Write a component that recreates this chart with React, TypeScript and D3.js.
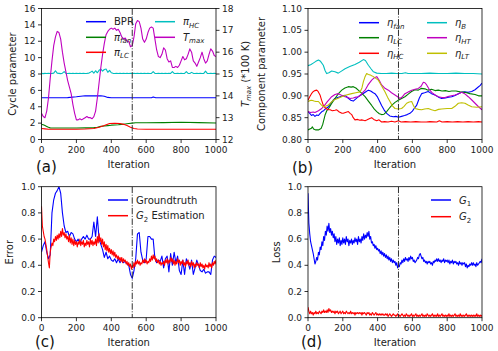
import React from "react";
import * as d3 from "d3";

type Pt = [number, number];

// ---------- shared ----------
const X_TICKS = [0, 200, 400, 600, 800, 1000];
const DIVIDER = 520;

// ---------- panel (a) ----------
const A_Y_TICKS = [0, 2, 4, 6, 8, 10, 12, 14, 16];
const A_Y2_TICKS = [12, 13, 14, 15, 16, 17, 18];
const BPR: Pt[] = [[0,5.1],[100,5.1],[150,5.12],[200,5.22],[250,5.35],[300,5.33],[340,5.35],[360,5.28],[380,5.14],[400,5.1],[630,5.1],[640,5.2],[655,5.1],[1000,5.1]];
const PI_FAN: Pt[] = [[0,1.85],[10,1.8],[20,1.7],[30,1.6],[40,1.5],[50,1.42],[100,1.4],[200,1.4],[250,1.42],[300,1.45],[320,1.5],[340,1.6],[360,1.65],[380,1.7],[400,1.75],[420,1.78],[440,1.8],[460,1.85],[480,1.9],[500,1.95],[520,2.0],[540,2.05],[600,2.05],[700,2.06],[800,2.1],[900,2.06],[1000,2.02]];
const PI_LC: Pt[] = [[0,1.35],[20,1.3],[40,1.25],[100,1.25],[200,1.25],[250,1.28],[300,1.35],[330,1.5],[360,1.7],[390,1.95],[420,1.98],[450,1.95],[470,1.85],[490,1.7],[510,1.5],[530,1.35],[550,1.28],[600,1.25],[1000,1.25]];
const PI_HC_STEP = 10;
const PI_HC = [
  8.08,8.05,8.08,8.06,8.08,8.07,8.08,8.10,8.40,8.10,
  8.08,8.05,8.10,8.30,8.08,8.06,8.08,8.07,8.08,8.06,
  8.08,8.07,8.08,8.06,8.08,8.07,8.08,8.10,8.20,8.35,
  8.10,8.40,8.15,8.45,8.60,8.35,8.55,8.60,8.20,8.45,
  8.15,8.08,8.06,8.08,8.07,8.08,8.06,8.08,8.07,8.08,
  8.06,8.08,8.07,8.08,8.06,8.08,8.07,8.08,8.06,8.08,
  8.07,8.08,8.06,8.08,8.30,8.08,8.07,8.08,8.06,8.08,
  8.07,8.08,8.06,8.08,8.07,8.30,8.08,8.06,8.08,8.07,
  8.08,8.06,8.08,8.30,8.08,8.07,8.20,8.08,8.06,8.08,
  8.07,8.08,8.06,8.08,8.35,8.08,8.07,8.08,8.06,8.08,
  8.07];
const T_MAX_STEP = 10;
const T_MAX = [
  13.2,13.05,13.0,13.3,13.9,14.8,15.6,16.3,16.7,16.95,
  16.9,16.6,16.0,15.5,15.1,14.7,14.4,14.1,13.6,13.2,
  12.9,12.9,12.95,12.9,12.95,13.0,13.05,13.0,13.0,12.95,
  13.05,13.3,13.9,14.6,15.3,15.9,16.4,16.8,16.95,17.05,
  17.1,17.05,17.1,17.0,17.05,16.9,16.7,16.6,16.65,16.5,
  16.5,16.25,16.3,16.7,17.3,17.45,17.4,17.1,16.6,16.45,
  16.6,16.9,17.1,17.15,17.1,16.6,16.1,15.8,15.75,15.9,
  16.2,16.1,15.7,15.55,15.6,15.3,15.3,15.35,15.3,15.4,
  15.6,15.8,15.65,15.7,15.9,16.15,16.0,15.6,15.5,15.35,
  15.55,15.75,16.0,15.7,15.5,15.6,15.9,16.15,16.05,15.85,
  15.8];

// ---------- panel (b) ----------
const B_Y_TICKS = [0.8, 0.85, 0.9, 0.95, 1.0, 1.05, 1.1];
const ETA_FAN: Pt[] = [[0,.864],[10,.86],[20,.855],[30,.857],[40,.853],[50,.856],[60,.855],[70,.86],[80,.864],[90,.866],[100,.87],[117,.875],[130,.882],[145,.89],[155,.894],[170,.896],[185,.898],[200,.9],[213,.901],[230,.895],[245,.89],[260,.888],[275,.893],[289,.898],[305,.902],[320,.906],[335,.91],[347,.913],[360,.911],[375,.907],[385,.905],[400,.897],[412,.887],[423,.878],[437,.868],[452,.86],[470,.854],[490,.852],[505,.853],[520,.851],[538,.853],[555,.855],[570,.857],[586,.86],[600,.865],[612,.872],[624,.878],[640,.895],[653,.905],[670,.907],[691,.91],[710,.905],[730,.902],[750,.897],[768,.894],[790,.895],[808,.897],[826,.898],[845,.901],[865,.905],[883,.908],[900,.909],[920,.908],[941,.91],[960,.914],[975,.919],[990,.924],[1000,.929]];
const ETA_LC: Pt[] = [[0,.822],[10,.824],[20,.826],[25,.829],[32,.824],[45,.822],[60,.822],[75,.825],[85,.835],[98,.856],[108,.866],[117,.87],[135,.882],[155,.894],[175,.905],[194,.913],[212,.918],[232,.921],[248,.92],[260,.921],[275,.918],[289,.913],[308,.906],[328,.898],[347,.888],[366,.878],[380,.87],[395,.864],[410,.859],[423,.857],[437,.858],[452,.864],[466,.871],[481,.878],[500,.885],[519,.89],[538,.894],[557,.898],[576,.904],[595,.91],[615,.914],[634,.913],[650,.917],[672,.916],[690,.913],[710,.915],[730,.912],[749,.913],[770,.911],[790,.912],[810,.91],[826,.911],[850,.911],[875,.909],[902,.908],[930,.905],[960,.903],[980,.9],[1000,.9]];
const ETA_HC: Pt[] = [[0,.89],[10,.898],[20,.905],[31,.91],[40,.912],[50,.913],[58,.91],[69,.902],[78,.89],[88,.878],[100,.872],[115,.868],[127,.868],[140,.866],[155,.867],[165,.868],[180,.863],[195,.86],[203,.86],[215,.862],[232,.864],[242,.86],[251,.857],[260,.85],[270,.845],[285,.846],[298,.844],[308,.845],[318,.844],[328,.843],[340,.845],[355,.848],[366,.85],[378,.846],[395,.843],[408,.845],[423,.84],[440,.841],[460,.84],[480,.842],[500,.84],[520,.843],[535,.84],[560,.841],[590,.84],[620,.841],[650,.84],[680,.84],[700,.841],[740,.84],[755,.843],[770,.84],[800,.841],[830,.84],[860,.841],[890,.84],[920,.841],[950,.84],[980,.841],[1000,.84]];
const ETA_HT: Pt[] = [[0,.864],[15,.862],[30,.863],[40,.862],[60,.866],[79,.871],[95,.878],[110,.886],[125,.893],[136,.898],[155,.903],[174,.905],[190,.902],[213,.898],[230,.896],[241,.894],[260,.895],[275,.897],[289,.898],[305,.903],[318,.909],[328,.913],[345,.925],[366,.936],[380,.941],[395,.944],[410,.935],[423,.925],[440,.918],[462,.913],[480,.907],[500,.902],[515,.898],[529,.894],[543,.898],[557,.905],[576,.909],[596,.913],[615,.915],[634,.917],[650,.922],[663,.931],[672,.93],[682,.925],[695,.916],[711,.908],[730,.902],[749,.898],[770,.896],[787,.896],[810,.899],[845,.902],[865,.905],[883,.908],[900,.905],[921,.898],[940,.891],[960,.883],[980,.875],[1000,.868]];
const ETA_LT: Pt[] = [[0,.887],[10,.889],[21,.89],[35,.888],[45,.887],[60,.887],[75,.88],[88,.875],[100,.876],[117,.879],[130,.884],[146,.89],[170,.894],[194,.898],[220,.902],[251,.905],[275,.907],[299,.909],[310,.918],[318,.932],[327,.943],[337,.951],[347,.949],[357,.948],[366,.946],[376,.944],[390,.94],[404,.936],[420,.925],[443,.909],[457,.897],[471,.887],[485,.877],[500,.871],[520,.87],[538,.871],[552,.876],[567,.883],[582,.886],[596,.887],[606,.878],[615,.871],[635,.869],[653,.868],[670,.87],[691,.871],[710,.868],[730,.866],[750,.869],[768,.87],[800,.871],[826,.871],[845,.876],[864,.883],[883,.884],[902,.883],[920,.879],[941,.875],[970,.874],[1000,.875]];
const ETA_B: Pt[] = [[0,.969],[15,.971],[30,.975],[45,.979],[60,.982],[72,.979],[88,.97],[98,.958],[107,.951],[120,.953],[136,.957],[155,.955],[174,.952],[190,.956],[213,.962],[240,.967],[270,.972],[295,.977],[318,.983],[330,.981],[347,.97],[362,.962],[376,.955],[395,.952],[420,.951],[450,.951],[480,.952],[510,.951],[540,.951],[560,.953],[575,.951],[600,.951],[650,.951],[700,.952],[750,.951],[800,.951],[850,.952],[900,.951],[950,.951],[1000,.95]];

// ---------- panel (c) ----------
const CD_Y_TICKS = [0, 0.2, 0.4, 0.6, 0.8, 1.0];
const GROUNDTRUTH_STEP = 10;
const GROUNDTRUTH = [
  0.50,0.55,0.58,0.50,0.45,0.48,0.80,0.90,0.95,0.97,
  1.00,0.95,0.80,0.70,0.65,0.66,0.62,0.65,0.64,0.60,
  0.58,0.60,0.57,0.60,0.62,0.60,0.63,0.60,0.60,0.62,
  0.73,0.62,0.77,0.60,0.56,0.52,0.46,0.50,0.45,0.47,
  0.44,0.43,0.45,0.42,0.45,0.42,0.44,0.42,0.43,0.41,
  0.40,0.33,0.30,0.36,0.45,0.64,0.65,0.50,0.44,0.42,
  0.45,0.62,0.62,0.60,0.60,0.45,0.42,0.44,0.43,0.47,
  0.38,0.45,0.47,0.35,0.49,0.40,0.50,0.42,0.47,0.36,
  0.33,0.44,0.33,0.45,0.42,0.37,0.44,0.33,0.38,0.44,
  0.40,0.36,0.35,0.37,0.34,0.35,0.35,0.33,0.44,0.47,
  0.46];
const G2_EST_STEP = 5;
const G2_EST = [
  0.85,0.70,0.66,0.62,0.60,0.56,0.52,0.47,0.42,0.38,
  0.50,0.54,0.57,0.55,0.60,0.58,0.62,0.59,0.63,0.60,
  0.64,0.61,0.66,0.62,0.68,0.63,0.65,0.61,0.64,0.60,
  0.62,0.58,0.63,0.57,0.61,0.56,0.60,0.55,0.59,0.56,
  0.58,0.54,0.58,0.56,0.60,0.55,0.58,0.56,0.59,0.54,
  0.57,0.55,0.59,0.56,0.58,0.54,0.60,0.56,0.59,0.55,
  0.58,0.56,0.60,0.55,0.62,0.57,0.64,0.58,0.61,0.56,
  0.60,0.54,0.58,0.52,0.56,0.51,0.55,0.50,0.53,0.49,
  0.52,0.48,0.51,0.47,0.50,0.46,0.48,0.45,0.47,0.44,
  0.46,0.43,0.46,0.42,0.45,0.43,0.44,0.41,0.43,0.40,
  0.42,0.39,0.41,0.37,0.40,0.38,0.42,0.39,0.43,0.41,
  0.44,0.41,0.43,0.40,0.42,0.41,0.44,0.42,0.45,0.42,
  0.44,0.41,0.43,0.42,0.45,0.43,0.47,0.44,0.48,0.45,
  0.47,0.43,0.45,0.42,0.44,0.41,0.43,0.40,0.42,0.41,
  0.43,0.40,0.44,0.42,0.45,0.41,0.44,0.42,0.46,0.43,
  0.45,0.41,0.44,0.40,0.43,0.41,0.45,0.42,0.44,0.40,
  0.43,0.41,0.44,0.40,0.42,0.39,0.43,0.41,0.44,0.40,
  0.42,0.39,0.43,0.40,0.42,0.38,0.41,0.39,0.42,0.40,
  0.41,0.38,0.42,0.39,0.41,0.38,0.40,0.37,0.41,0.39,
  0.40,0.38,0.42,0.39,0.41,0.38,0.42,0.40,0.43,0.41,
  0.44];

// ---------- panel (d) ----------
const G1_STEP = 5;
const G1 = [
  0.95,0.72,0.64,0.58,0.55,0.52,0.49,0.45,0.41,0.43,
  0.46,0.44,0.50,0.48,0.54,0.52,0.58,0.55,0.62,0.59,
  0.66,0.63,0.70,0.66,0.72,0.65,0.68,0.63,0.66,0.61,
  0.64,0.58,0.62,0.56,0.60,0.57,0.61,0.55,0.59,0.56,
  0.61,0.57,0.60,0.56,0.62,0.58,0.60,0.55,0.59,0.57,
  0.60,0.56,0.59,0.57,0.61,0.58,0.60,0.56,0.62,0.58,
  0.60,0.57,0.62,0.59,0.64,0.60,0.63,0.61,0.65,0.62,
  0.66,0.60,0.62,0.57,0.58,0.55,0.56,0.53,0.55,0.52,
  0.53,0.51,0.52,0.49,0.51,0.48,0.50,0.47,0.49,0.46,
  0.48,0.45,0.47,0.44,0.46,0.43,0.45,0.42,0.44,0.42,
  0.43,0.40,0.42,0.38,0.40,0.39,0.42,0.41,0.44,0.42,
  0.45,0.43,0.46,0.44,0.45,0.43,0.46,0.44,0.47,0.45,
  0.46,0.43,0.44,0.42,0.43,0.44,0.46,0.45,0.48,0.49,
  0.47,0.45,0.46,0.43,0.44,0.42,0.43,0.41,0.43,0.42,
  0.43,0.41,0.42,0.40,0.43,0.42,0.44,0.43,0.45,0.43,
  0.45,0.43,0.44,0.42,0.44,0.43,0.45,0.42,0.44,0.43,
  0.44,0.42,0.44,0.41,0.43,0.42,0.44,0.41,0.43,0.42,
  0.43,0.41,0.42,0.40,0.43,0.41,0.42,0.40,0.42,0.41,
  0.42,0.39,0.41,0.38,0.40,0.39,0.41,0.40,0.42,0.40,
  0.42,0.40,0.41,0.39,0.42,0.40,0.41,0.42,0.43,0.42,
  0.45];
const G2_STEP = 5;
const G2 = [
  0.08,0.05,0.03,0.05,0.03,0.04,0.02,0.04,0.03,0.05,
  0.03,0.04,0.03,0.05,0.04,0.03,0.05,0.04,0.06,0.04,
  0.05,0.04,0.06,0.04,0.07,0.05,0.06,0.04,0.05,0.04,
  0.05,0.03,0.05,0.04,0.05,0.03,0.04,0.05,0.03,0.04,
  0.05,0.03,0.04,0.03,0.05,0.04,0.03,0.04,0.03,0.05,
  0.03,0.04,0.03,0.04,0.02,0.04,0.03,0.04,0.03,0.04,
  0.03,0.04,0.02,0.04,0.03,0.04,0.03,0.02,0.04,0.03,
  0.04,0.02,0.03,0.02,0.04,0.03,0.02,0.03,0.04,0.02,
  0.03,0.02,0.03,0.02,0.03,0.02,0.03,0.02,0.02,0.03,
  0.02,0.03,0.01,0.02,0.03,0.02,0.01,0.02,0.03,0.02,
  0.02,0.01,0.02,0.03,0.01,0.02,0.01,0.02,0.03,0.02,
  0.01,0.02,0.01,0.03,0.02,0.01,0.02,0.01,0.02,0.03,
  0.01,0.02,0.01,0.02,0.03,0.01,0.02,0.01,0.02,0.01,
  0.02,0.03,0.01,0.02,0.01,0.02,0.01,0.03,0.02,0.01,
  0.02,0.01,0.02,0.03,0.01,0.02,0.01,0.02,0.01,0.03,
  0.01,0.02,0.01,0.02,0.03,0.01,0.02,0.01,0.02,0.01,
  0.02,0.01,0.03,0.01,0.02,0.01,0.02,0.01,0.02,0.03,
  0.01,0.02,0.01,0.02,0.01,0.03,0.01,0.02,0.01,0.02,
  0.01,0.02,0.03,0.01,0.02,0.01,0.02,0.01,0.02,0.01,
  0.02,0.01,0.02,0.01,0.03,0.01,0.02,0.01,0.02,0.01,
  0.02];

// ---------- colours ----------
const C_BLUE = "#0000ff";
const C_GREEN = "#008000";
const C_RED = "#ff0000";
const C_CYAN = "#00bfbf";
const C_MAGENTA = "#bf00bf";
const C_YELLOW = "#bfbf00";

const FONT = "DejaVu Sans, sans-serif";

const stepped = (vals: number[], step: number): Pt[] => vals.map((v, i) => [i * step, v]);

type Label = { main: string; sub?: string; rest?: string; italic?: boolean; subItalic?: boolean };
type Series = { data: Pt[]; color: string; right?: boolean };
type LegendItem = { color: string; label: Label; x: number; y: number };

function LabelText({ label, x, y, size }: { label: Label; x: number; y: number; size: number }) {
  const subSize = size * 0.7;
  return (
    <text x={x} y={y} fontSize={size} fontFamily={FONT} fill="#222">
      <tspan fontStyle={label.italic ? "italic" : "normal"}>{label.main}</tspan>
      {label.sub ? (
        <tspan fontSize={subSize} dy={size * 0.25} fontStyle={label.subItalic ? "italic" : "normal"}>
          {label.sub}
        </tspan>
      ) : null}
      {label.rest ? <tspan dy={label.sub ? -size * 0.25 : 0}>{label.rest}</tspan> : null}
    </text>
  );
}

type PanelProps = {
  id: string;
  box: { l: number; r: number; t: number; b: number };
  yDomain: [number, number];
  yTicks: number[];
  yFmt: (v: number) => string;
  y2Domain?: [number, number];
  y2Ticks?: number[];
  series: Series[];
  legend: LegendItem[];
  ylabel: React.ReactNode;
  ylabelX: number;
  y2label?: React.ReactNode;
  y2labelX?: number;
  tag: string;
  tagX: number;
  tagY: number;
};

function Panel(p: PanelProps) {
  const { l, r, t, b } = p.box;
  const x = d3.scaleLinear().domain([0, 1000]).range([l, r]);
  const y = d3.scaleLinear().domain(p.yDomain).range([b, t]);
  const y2 = p.y2Domain ? d3.scaleLinear().domain(p.y2Domain).range([b, t]) : null;
  const lineFor = (s: Series) => {
    const ys = s.right && y2 ? y2 : y;
    return d3.line<Pt>().x((d) => x(d[0])).y((d) => ys(d[1]))(s.data) || "";
  };
  const cy = (t + b) / 2;
  const tickLen = 3.5;
  return (
    <g>
      <defs>
        <clipPath id={"clip-" + p.id}>
          <rect x={l} y={t} width={r - l} height={b - t} />
        </clipPath>
      </defs>
      <rect x={l} y={t} width={r - l} height={b - t} fill="#fff" />
      <g clipPath={`url(#clip-${p.id})`}>
        {p.series.map((s, i) => (
          <path key={i} d={lineFor(s)} fill="none" stroke={s.color} strokeWidth={1.1} strokeLinejoin="round" />
        ))}
        <line
          x1={x(DIVIDER)}
          x2={x(DIVIDER)}
          y1={t}
          y2={b}
          stroke="#333"
          strokeWidth={1}
          strokeDasharray="6.4,1.6,1,1.6"
        />
      </g>
      {/* legend */}
      {p.legend.map((it, i) => (
        <g key={i}>
          <line x1={it.x} x2={it.x + 20} y1={it.y} y2={it.y} stroke={it.color} strokeWidth={1.5} />
          <LabelText label={it.label} x={it.x + 28} y={it.y + 3.5} size={10} />
        </g>
      ))}
      {/* spines */}
      <rect x={l} y={t} width={r - l} height={b - t} fill="none" stroke="#000" strokeWidth={0.8} />
      {/* x ticks */}
      {X_TICKS.map((v) => (
        <g key={"x" + v}>
          <line x1={x(v)} x2={x(v)} y1={b} y2={b + tickLen} stroke="#000" strokeWidth={0.8} />
          <text x={x(v)} y={b + 13.2} fontSize={9} fontFamily={FONT} textAnchor="middle" fill="#222">
            {v}
          </text>
        </g>
      ))}
      {/* y ticks */}
      {p.yTicks.map((v) => (
        <g key={"y" + v}>
          <line x1={l - tickLen} x2={l} y1={y(v)} y2={y(v)} stroke="#000" strokeWidth={0.8} />
          <text x={l - 6} y={y(v)} dy="0.35em" fontSize={9} fontFamily={FONT} textAnchor="end" fill="#222">
            {p.yFmt(v)}
          </text>
        </g>
      ))}
      {y2 && p.y2Ticks
        ? p.y2Ticks.map((v) => (
            <g key={"y2" + v}>
              <line x1={r} x2={r + tickLen} y1={y2(v)} y2={y2(v)} stroke="#000" strokeWidth={0.8} />
              <text x={r + 6} y={y2(v)} dy="0.35em" fontSize={9} fontFamily={FONT} textAnchor="start" fill="#222">
                {v}
              </text>
            </g>
          ))
        : null}
      {/* axis labels */}
      <text x={(l + r) / 2} y={b + 28.5} fontSize={10} fontFamily={FONT} textAnchor="middle" fill="#222">
        Iteration
      </text>
      <g transform={`translate(${p.ylabelX},${cy}) rotate(-90)`}>{p.ylabel}</g>
      {p.y2label ? <g transform={`translate(${p.y2labelX},${cy}) rotate(-90)`}>{p.y2label}</g> : null}
      <text x={p.tagX} y={p.tagY} fontSize={15} fontFamily={FONT} fill="#111">
        {p.tag}
      </text>
    </g>
  );
}

const simpleYLabel = (s: string) => (
  <text x={0} y={0} dy="0.35em" fontSize={10} fontFamily={FONT} textAnchor="middle" fill="#222">
    {s}
  </text>
);

export default function App() {
  const boxA = { l: 41.5, r: 216, t: 8.5, b: 139.5 };
  const boxB = { l: 308, r: 482, t: 8.5, b: 139.5 };
  const boxC = { l: 41.5, r: 216, t: 186.7, b: 317.7 };
  const boxD = { l: 308, r: 482, t: 186.7, b: 317.7 };

  const tmaxLabel = (
    <text x={0} y={0} dy="0.35em" fontSize={10} fontFamily={FONT} textAnchor="middle" fill="#222">
      <tspan fontStyle="italic">T</tspan>
      <tspan fontStyle="italic" fontSize={7} dy={2.5}>max</tspan>
      <tspan dy={-2.5}> (*100 K)</tspan>
    </text>
  );

  return (
    <svg
      width={498}
      height={351}
      viewBox="0 0 498 351"
      style={{ position: "absolute", left: 0, top: 0, background: "#fff" }}
    >
      <rect x={0} y={0} width={498} height={351} fill="#fff" />
      <Panel
        id="a"
        box={boxA}
        yDomain={[0, 16]}
        yTicks={A_Y_TICKS}
        yFmt={(v) => String(v)}
        y2Domain={[12, 18]}
        y2Ticks={A_Y2_TICKS}
        series={[
          { data: BPR, color: C_BLUE },
          { data: PI_FAN, color: C_GREEN },
          { data: PI_LC, color: C_RED },
          { data: stepped(PI_HC, PI_HC_STEP), color: C_CYAN },
          { data: stepped(T_MAX, T_MAX_STEP), color: C_MAGENTA, right: true },
        ]}
        legend={[
          { color: C_BLUE, label: { main: "BPR" }, x: 86, y: 21.7 },
          { color: C_GREEN, label: { main: "π", sub: "fan", italic: true, subItalic: true }, x: 86, y: 37.3 },
          { color: C_RED, label: { main: "π", sub: "LC", italic: true, subItalic: true }, x: 86, y: 52.3 },
          { color: C_CYAN, label: { main: "π", sub: "HC", italic: true, subItalic: true }, x: 155, y: 21.7 },
          { color: C_MAGENTA, label: { main: "T", sub: "max", italic: true, subItalic: true }, x: 155, y: 37.3 },
        ]}
        ylabel={simpleYLabel("Cycle parameter")}
        ylabelX={12}
        y2label={tmaxLabel}
        y2labelX={245}
        tag="(a)"
        tagX={36}
        tagY={172}
      />
      <Panel
        id="b"
        box={boxB}
        yDomain={[0.8, 1.1]}
        yTicks={B_Y_TICKS}
        yFmt={(v) => v.toFixed(2)}
        series={[
          { data: ETA_FAN, color: C_BLUE },
          { data: ETA_LC, color: C_GREEN },
          { data: ETA_HC, color: C_RED },
          { data: ETA_B, color: C_CYAN },
          { data: ETA_HT, color: C_MAGENTA },
          { data: ETA_LT, color: C_YELLOW },
        ]}
        legend={[
          { color: C_BLUE, label: { main: "η", sub: "fan", italic: true, subItalic: true }, x: 359, y: 22.7 },
          { color: C_GREEN, label: { main: "η", sub: "LC", italic: true, subItalic: true }, x: 359, y: 37.7 },
          { color: C_RED, label: { main: "η", sub: "HC", italic: true, subItalic: true }, x: 359, y: 53.3 },
          { color: C_CYAN, label: { main: "η", sub: "B", italic: true, subItalic: true }, x: 427, y: 22.7 },
          { color: C_MAGENTA, label: { main: "η", sub: "HT", italic: true, subItalic: true }, x: 427, y: 37.7 },
          { color: C_YELLOW, label: { main: "η", sub: "LT", italic: true, subItalic: true }, x: 427, y: 53.3 },
        ]}
        ylabel={simpleYLabel("Component parameter")}
        ylabelX={261}
        tag="(b)"
        tagX={292}
        tagY={173}
      />
      <Panel
        id="c"
        box={boxC}
        yDomain={[0, 1]}
        yTicks={CD_Y_TICKS}
        yFmt={(v) => v.toFixed(1)}
        series={[
          { data: stepped(GROUNDTRUTH, GROUNDTRUTH_STEP), color: C_BLUE },
          { data: stepped(G2_EST, G2_EST_STEP), color: C_RED },
        ]}
        legend={[
          { color: C_BLUE, label: { main: "Groundtruth" }, x: 108, y: 200 },
          { color: C_RED, label: { main: "G", sub: "2", rest: " Estimation", italic: true }, x: 108, y: 215.7 },
        ]}
        ylabel={simpleYLabel("Error")}
        ylabelX={9.5}
        tag="(c)"
        tagX={35}
        tagY={346.5}
      />
      <Panel
        id="d"
        box={boxD}
        yDomain={[0, 1]}
        yTicks={CD_Y_TICKS}
        yFmt={(v) => v.toFixed(1)}
        series={[
          { data: stepped(G1, G1_STEP), color: C_BLUE },
          { data: stepped(G2, G2_STEP), color: C_RED },
        ]}
        legend={[
          { color: C_BLUE, label: { main: "G", sub: "1", italic: true }, x: 431, y: 200 },
          { color: C_RED, label: { main: "G", sub: "2", italic: true }, x: 431, y: 216.7 },
        ]}
        ylabel={simpleYLabel("Loss")}
        ylabelX={276}
        tag="(d)"
        tagX={301}
        tagY={347}
      />
    </svg>
  );
}
